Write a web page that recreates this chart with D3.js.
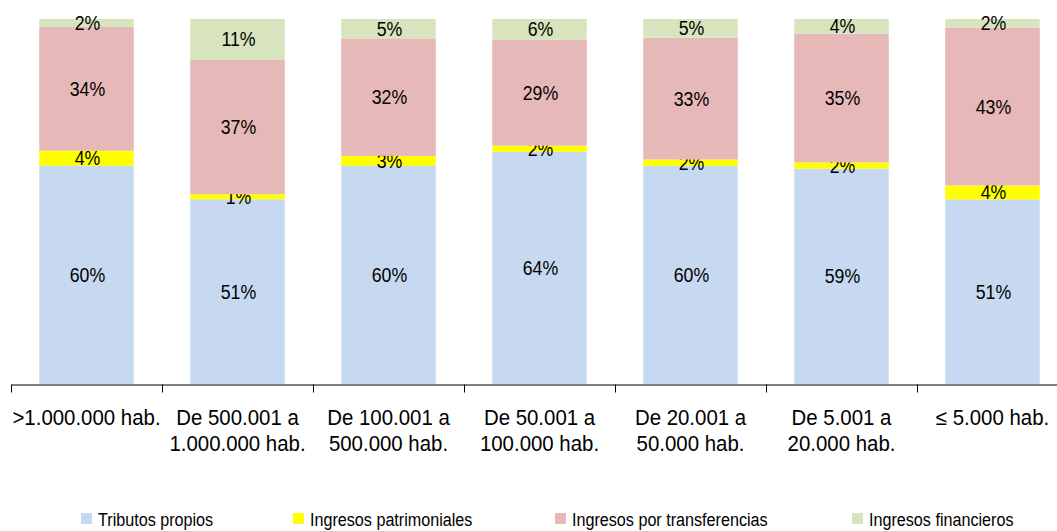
<!DOCTYPE html>
<html>
<head>
<meta charset="utf-8">
<script src="https://cdn.jsdelivr.net/npm/d3@7"></script>
<style>
  body { margin: 0; background: #fff; }
  svg { display: block; font-family: "Liberation Sans", Arial, sans-serif; }
</style>
</head>
<body>
<script>
// categories (each label split in lines)
var categories = [
  [">1.000.000 hab."],
  ["De 500.001 a", "1.000.000 hab."],
  ["De 100.001 a", "500.000 hab."],
  ["De 50.001 a", "100.000 hab."],
  ["De 20.001 a", "50.000 hab."],
  ["De 5.001 a", "20.000 hab."],
  ["\u2264 5.000 hab."]
];

// series values in %
var tributos       = [59.8, 50.6, 59.8, 63.6, 59.8, 59.0, 50.6];
var patrimoniales  = [4.1, 1.4, 2.7, 1.7, 1.7, 1.7, 3.8];
var transferencias = [33.9, 36.8, 32.2, 29.0, 33.4, 35.3, 43.2];
var financieros    = [2.2, 11.2, 5.3, 5.7, 5.1, 4.0, 2.4];

var seriesNames = ["Tributos propios", "Ingresos patrimoniales", "Ingresos por transferencias", "Ingresos financieros"];
var seriesColors = ["#C6D9F1", "#FFFF00", "#E6B9B8", "#D7E4BD"];

var width = 1057, height = 531;

var svg = d3.select("body").append("svg")
  .attr("width", width)
  .attr("height", height);

// build table for the stack
var table = categories.map(function(c, i) {
  return { idx: i, s0: tributos[i], s1: patrimoniales[i], s2: transferencias[i], s3: financieros[i] };
});
var stack = d3.stack().keys(["s0", "s1", "s2", "s3"]);
var layers = stack(table);

var x = d3.scaleBand()
  .domain(d3.range(categories.length))
  .range([11, 11 + 151 * 7])
  .paddingInner(0.374)
  .paddingOuter(0.187);

var y = d3.scaleLinear()
  .domain([0, 100])
  .range([384, 19]);

// bars
var layer = svg.selectAll(".layer")
  .data(layers)
  .enter().append("g")
  .attr("class", "layer")
  .attr("fill", function(d, i) { return seriesColors[i]; });

layer.selectAll("rect")
  .data(function(d) { return d; })
  .enter().append("rect")
  .attr("x", function(d) { return x(d.data.idx); })
  .attr("width", x.bandwidth())
  .attr("y", function(d) { return y(d[1]); })
  .attr("height", function(d) { return y(d[0]) - y(d[1]); });

// data labels
layer.selectAll("text")
  .data(function(d) { return d; })
  .enter().append("text")
  .attr("transform", function(d) {
    var cx = x(d.data.idx) + x.bandwidth() / 2 + 1;
    var cy = (y(d[0]) + y(d[1])) / 2;
    return "translate(" + cx + "," + cy + ") scale(0.91,1)";
  })
  .attr("dy", "0.36em")
  .attr("text-anchor", "middle")
  .attr("fill", "#000")
  .style("font-size", "19.5px")
  .text(function(d) { return Math.round(d[1] - d[0]) + "%"; });

// x axis, ticks between categories
var xb = d3.scaleLinear().domain([0, 7]).range([11, 11 + 151 * 7]);
svg.append("g")
  .attr("transform", "translate(0,384.5)")
  .call(d3.axisBottom(xb).tickValues(d3.range(8)).tickSize(8).tickSizeOuter(0).tickFormat(""))
  .call(function(g) {
    g.select(".domain").attr("stroke", "#000").attr("stroke-width", 1);
    g.selectAll(".tick line").attr("stroke", "#000");
  });

// category labels
var catG = svg.selectAll(".cat")
  .data(categories)
  .enter().append("text")
  .attr("class", "cat")
  .attr("transform", function(d, i) {
    return "translate(" + (x(i) + x.bandwidth() / 2) + ",425) scale(0.95,1)";
  })
  .attr("text-anchor", "middle")
  .style("font-size", "21.5px")
  .attr("fill", "#000");

catG.selectAll("tspan")
  .data(function(d) { return d; })
  .enter().append("tspan")
  .attr("x", 0)
  .attr("dy", function(d, i) { return i === 0 ? 0 : 26; })
  .text(function(d) { return d; });

// legend
var legendX = [81, 293, 555, 852];
var leg = svg.selectAll(".leg")
  .data(seriesNames)
  .enter().append("g")
  .attr("class", "leg")
  .attr("transform", function(d, i) { return "translate(" + legendX[i] + ",0)"; });

leg.append("rect")
  .attr("x", 0)
  .attr("y", 513)
  .attr("width", 11)
  .attr("height", 11)
  .attr("fill", function(d, i) { return seriesColors[i]; });

leg.append("text")
  .attr("transform", "translate(17,526) scale(0.85,1)")
  .style("font-size", "19px")
  .attr("fill", "#000")
  .text(function(d) { return d; });
</script>
</body>
</html>
